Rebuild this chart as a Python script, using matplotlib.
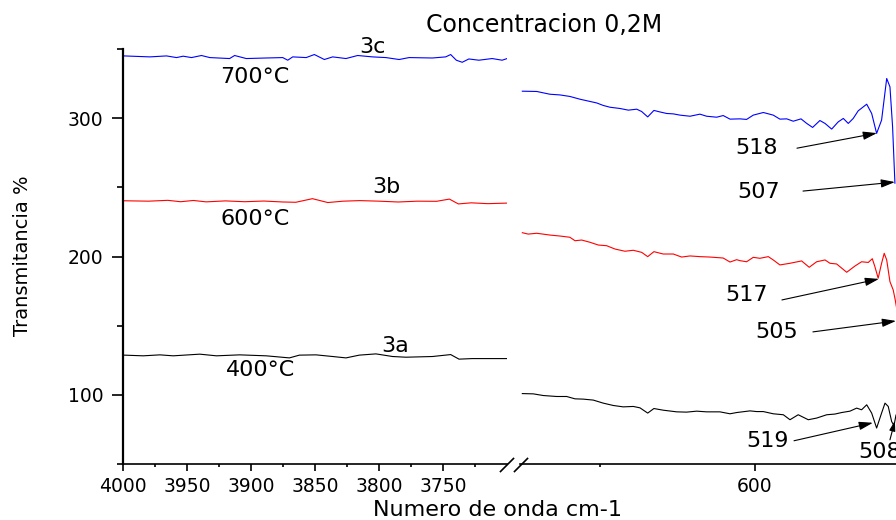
import matplotlib
matplotlib.use('Agg')
import matplotlib.pyplot as plt
from matplotlib.lines import Line2D

# ---------------- data ----------------
# left segment (4000-3700 cm-1)
wn_blue_left = [3999.2, 3979.0, 3966.0, 3958.2, 3953.0, 3946.5, 3938.7, 3932.2, 3916.7, 3912.8,
                3903.7, 3888.1, 3875.2, 3871.3, 3867.4, 3856.9, 3850.5, 3842.7, 3836.2, 3825.8,
                3816.7, 3805.1, 3794.6, 3784.3, 3776.5, 3758.3, 3747.9, 3744.0, 3739.6, 3735.0,
                3729.8, 3722.0, 3711.6, 3703.8, 3699.9]
blue_left = [345.0, 344.3, 345.0, 343.8, 344.8, 343.8, 345.3, 343.8, 343.1, 345.3,
             343.1, 343.5, 343.8, 341.9, 344.3, 343.8, 346.0, 342.4, 344.3, 343.1,
             345.3, 344.3, 343.8, 342.4, 343.8, 343.5, 344.3, 346.0, 341.9, 340.4,
             342.8, 341.9, 343.1, 341.9, 343.1]

wn_red_left = [4000, 3980, 3965, 3955, 3945, 3935, 3920, 3905, 3890, 3875, 3865, 3852,
               3840, 3828, 3815, 3800, 3785, 3770, 3755, 3745, 3738, 3728, 3715, 3700]
red_left = [240.3, 240.0, 240.6, 239.6, 240.5, 239.5, 240.2, 239.6, 240.1, 239.4, 239.2, 241.8,
            239.0, 240.0, 240.4, 240.0, 239.4, 240.0, 239.9, 241.5, 238.0, 238.8, 238.2, 238.6]

wn_black_left = [3999.2, 3984.2, 3971.2, 3960.8, 3940.0, 3927.0, 3908.9, 3888.1, 3870.0, 3862.2,
                 3849.2, 3836.2, 3825.8, 3815.4, 3802.4, 3789.4, 3779.0, 3758.3, 3744.0, 3737.5,
                 3727.2, 3716.8, 3699.9]
black_left = [128.7, 128.2, 128.9, 128.2, 129.4, 128.2, 128.9, 128.2, 126.7, 128.7,
              128.9, 127.7, 126.7, 128.7, 129.6, 127.7, 127.2, 127.7, 129.1, 125.8,
              126.2, 126.2, 126.2]

# right segment (750-509 cm-1)
wn_blue_right = [750.1, 740.8, 732.3, 725.8, 719.4, 712.9, 706.5, 702.1, 697.9, 693.5,
                 687.1, 681.7, 676.3, 673.1, 669.2, 665.2, 661.3, 657.0, 652.7, 648.4,
                 641.9, 635.5, 631.2, 624.7, 620.5, 616.1, 609.7, 605.4, 601.1, 594.6,
                 588.2, 583.9, 579.5, 575.3, 570.3, 566.6, 562.8, 558.1, 554.8, 550.5,
                 546.3, 543.0, 539.8, 536.6, 533.4, 527.9, 524.7, 521.5, 518.3, 515.0,
                 512.9, 511.2, 509.7]
blue_right = [319.5, 319.3, 317.3, 316.8, 315.7, 313.7, 312.1, 311.0, 309.2, 307.9,
              307.0, 305.8, 306.5, 304.8, 300.9, 305.6, 304.5, 303.4, 303.1, 302.2,
              301.4, 302.9, 301.4, 300.7, 301.9, 299.3, 299.5, 299.1, 302.2, 304.1,
              302.2, 299.3, 299.5, 297.8, 299.5, 296.2, 293.3, 298.3, 296.2, 292.1,
              297.3, 299.8, 296.2, 299.8, 305.3, 310.1, 303.4, 289.0, 298.6, 328.7,
              322.6, 293.7, 253.0]

wn_red_right = [750.1, 746.3, 740.8, 732.3, 725.8, 719.4, 716.1, 711.8, 706.5, 701.1,
                695.7, 690.3, 683.9, 678.5, 673.1, 669.2, 665.2, 659.2, 652.7, 647.3,
                641.9, 635.5, 629.0, 620.5, 616.1, 611.8, 609.7, 605.4, 601.1, 596.8,
                591.4, 588.2, 583.9, 577.4, 569.9, 565.0, 560.2, 554.8, 551.6, 547.3,
                540.8, 535.5, 531.2, 526.9, 524.3, 522.6, 520.5, 518.3, 516.6, 515.0,
                512.9, 510.8, 509.5, 508.4]
red_right = [217.2, 216.2, 216.8, 215.5, 214.8, 213.9, 211.4, 211.9, 210.3, 208.3,
             207.8, 205.4, 203.8, 204.5, 203.0, 199.9, 203.5, 201.8, 201.8, 199.6,
             200.4, 199.9, 199.6, 198.9, 196.0, 197.7, 197.0, 196.2, 199.4, 198.7,
             199.9, 197.5, 193.9, 195.1, 196.8, 192.2, 196.2, 197.5, 195.1, 194.6,
             188.6, 193.1, 196.2, 195.7, 198.4, 192.6, 184.3, 195.1, 202.3, 197.5,
             181.8, 175.8, 168.6, 161.4]

wn_black_right = [750.1, 743.0, 736.6, 727.9, 721.5, 716.1, 710.8, 704.3, 697.9, 691.4,
                  685.0, 678.5, 674.2, 669.2, 665.2, 659.2, 650.5, 644.1, 637.6, 631.2,
                  622.6, 616.1, 611.8, 603.2, 598.9, 594.6, 588.2, 581.7, 577.4, 572.1,
                  565.6, 560.2, 553.7, 548.4, 544.1, 538.7, 534.4, 531.2, 527.9, 524.7,
                  521.5, 518.3, 516.1, 514.0, 511.8, 510.3, 509.0]
black_right = [100.9, 100.7, 99.5, 98.8, 98.8, 97.1, 96.9, 96.2, 94.0, 92.3,
               91.3, 91.6, 90.6, 86.8, 90.1, 88.9, 87.7, 87.5, 88.2, 87.7,
               87.7, 86.3, 87.2, 88.4, 87.9, 87.9, 86.3, 85.6, 82.0, 85.6,
               82.0, 83.2, 85.6, 86.1, 87.2, 88.2, 90.4, 89.2, 92.8, 86.8,
               76.0, 86.8, 94.0, 91.6, 80.7, 77.7, 85.4]

left_major = [4000, 3950, 3900, 3850, 3800, 3750]
left_minor = [3975, 3925, 3875, 3825, 3775, 3725]
right_major = [600]
right_minor = [700]
y_major = [100, 200, 300]
y_minor = [50, 150, 250, 350]

# ---------------- figure ----------------
W, H = 896, 520
fig = plt.figure(figsize=(W / 100, H / 100), dpi=100)
fig.patch.set_facecolor('white')


def fx(px):
    return px / W


def fy(py):
    return 1 - py / H


FONT = 'DejaVu Sans'

axL = fig.add_axes([fx(123), fy(464), fx(507) - fx(123), fy(49) - fy(464)])
axR = fig.add_axes([fx(520), fy(464), fx(896) - fx(520), fy(49) - fy(464)])

for ax in (axL, axR):
    ax.set_ylim(50, 350)
    ax.spines['top'].set_visible(False)
    ax.spines['right'].set_visible(False)
    ax.spines['bottom'].set_linewidth(1.2)
    ax.patch.set_alpha(0)

axL.set_xlim(4000, 3700)
axR.set_xlim(751.6, 509.0)

lw = 0.8
axL.plot(wn_blue_left, blue_left, color='#0000ff', lw=lw)
axL.plot(wn_red_left, red_left, color='#ff0000', lw=lw)
axL.plot(wn_black_left, black_left, color='black', lw=lw)
axR.plot(wn_blue_right, blue_right, color='#0000ff', lw=lw)
axR.plot(wn_red_right, red_right, color='#ff0000', lw=lw)
axR.plot(wn_black_right, black_right, color='black', lw=lw)

TICK_FS = 13.5
# ticks left
axL.set_xticks(left_major)
axL.set_xticks(left_minor, minor=True)
axL.set_xticklabels([str(v) for v in left_major])
axL.set_yticks(y_major)
axL.set_yticks(y_minor, minor=True)
axL.set_yticklabels([str(v) for v in y_major])
axL.spines['left'].set_linewidth(1.6)
axL.tick_params(axis='y', which='major', direction='out', length=8, width=1.2,
                pad=6, labelsize=TICK_FS)
axL.tick_params(axis='y', which='minor', direction='out', length=4.3, width=1.2)
axL.tick_params(axis='x', which='major', direction='out', length=5, width=1.2,
                pad=4, labelsize=TICK_FS)
axL.tick_params(axis='x', which='minor', direction='out', length=2.5, width=1.2)

axR.spines['left'].set_visible(False)
axR.set_yticks([])
axR.set_xticks(right_major)
axR.set_xticks(right_minor, minor=True)
axR.set_xticklabels([str(v) for v in right_major])
axR.tick_params(axis='x', which='major', direction='out', length=5, width=1.2,
                pad=4, labelsize=TICK_FS)
axR.tick_params(axis='x', which='minor', direction='out', length=2.5, width=1.2)

for lab in axL.get_xticklabels() + axL.get_yticklabels() + axR.get_xticklabels():
    lab.set_family(FONT)

# break marks
for cx in (507, 521):
    fig.add_artist(Line2D([fx(cx - 6.5), fx(cx + 6.5)], [fy(471.5), fy(458.5)],
                          transform=fig.transFigure, color='black', lw=1.2))

# series labels (left)
lab_kw = dict(ha='center', va='center', fontsize=16, family=FONT)
axL.text(3805.3, 351.3, '3c', **lab_kw)
axL.text(3897.2, 329.6, '700°C', **lab_kw)
axL.text(3794.4, 250.2, '3b', **lab_kw)
axL.text(3896.4, 227.1, '600°C', **lab_kw)
axL.text(3787.4, 135.4, '3a', **lab_kw)
axL.text(3892.5, 118.0, '400°C', **lab_kw)

# peak annotations (right)
arrow = dict(arrowstyle='-|>,head_length=0.6,head_width=0.18', lw=0.8, color='black',
             mutation_scale=14, shrinkA=0, shrinkB=0)
peaks = [
    ('518', (598.7, 278.3), (572.9, 278.3), (521.3, 289.2)),
    ('507', (597.4, 246.6), (569.0, 247.3), (509.7, 253.8)),
    ('517', (605.2, 172.2), (582.6, 168.6), (520.0, 183.8)),
    ('505', (585.8, 145.5), (562.6, 145.5), (509.0, 153.4)),
    ('519', (591.6, 66.8), (574.8, 66.8), (523.9, 79.8)),
]
for txt, tpos, tail, tip in peaks:
    axR.text(tpos[0], tpos[1], txt, ha='center', va='center', fontsize=16, family=FONT)
    axR.annotate('', xy=tip, xytext=tail, arrowprops=arrow, annotation_clip=False)
axR.text(533.5, 58.8, '508', ha='left', va='center', fontsize=16, family=FONT)
small_arrow = dict(arrowstyle='-|>,head_length=0.5,head_width=0.15', lw=0.8,
                   color='black', mutation_scale=12, shrinkA=0, shrinkB=0)
axR.annotate('', xy=(509.7, 81.2), xytext=(512.9, 67.5), arrowprops=small_arrow,
             annotation_clip=False)

# titles / axis labels
fig.text(fx(544), fy(25), 'Concentracion 0,2M', ha='center', va='center',
         fontsize=17, family=FONT)
fig.text(fx(497), fy(510), 'Numero de onda cm-1', ha='center', va='center',
         fontsize=16, family=FONT)
fig.text(fx(22), fy(256), 'Transmitancia %', ha='center', va='center', rotation=90,
         fontsize=14, family=FONT)

fig.savefig('out.png', dpi=100, facecolor='white')
